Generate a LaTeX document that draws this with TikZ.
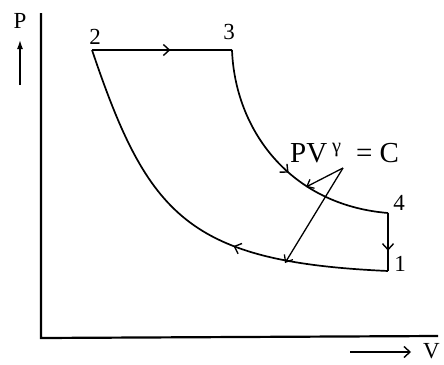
\documentclass[tikz,border=0pt]{standalone}
\usepackage{fontspec}
\setmainfont{Liberation Serif}
\usetikzlibrary{arrows.meta,decorations.markings}
\begin{document}
\begin{tikzpicture}[x=1pt,y=-1pt,
  curve/.style={line width=1.7pt},
  axis/.style={line width=2.2pt, line join=miter},
  pointer/.style={line width=1.3pt, -{Straight Barb[length=6pt,width=10pt,line width=1.3pt]}},
  midarrow/.style={postaction={decorate},decoration={markings,mark=at position #1 with {\arrow{Straight Barb[length=6pt,width=11pt,line width=1.4pt]}}}},
  lbl/.style={font=\fontsize{23}{23}\selectfont, inner sep=0pt}
]
\useasboundingbox (0,0) rectangle (444,364);
% axes
\coordinate (ytop) at (41,13);
\coordinate (o) at (41,338);
\coordinate (xend) at (438,336);
\draw[axis] (ytop) -- (o) -- (xend);
% cycle points
\coordinate (p2) at (92,50);
\coordinate (p3) at (232,50);
\coordinate (p4) at (388,213);
\coordinate (p1) at (388,271);
\draw[curve, midarrow=0.56] (p2) -- (p3);
\draw[curve, midarrow=0.56] (p3) .. controls (235,130) and (290,205) .. (p4);
\draw[curve, midarrow=0.65] (p4) -- (p1);
\draw[curve, midarrow=0.385] (p1) .. controls (188,262) and (148,216) .. (p2);
% labels
\node[lbl] (l2) at (95,37) {2};
\node[lbl] (l3) at (229,32) {3};
\node[lbl] (l4) at (399,203) {4};
\node[lbl] (l1) at (400,264) {1};
\node[lbl] (lP) at (20,21) {P};
\node[lbl, anchor=east] (lV) at (440,351) {V};
% axis arrows
\coordinate (pa1) at (20,85);
\coordinate (pa2) at (20,40);
\draw[line width=1.4pt, -{Latex[length=9pt,width=6pt]}] (pa1) -- (pa2);
\coordinate (va1) at (350,352);
\coordinate (va2) at (411,352);
\draw[line width=1.4pt, -{Straight Barb[length=6pt,width=11pt,line width=1.4pt]}] (va1) -- (va2);
% annotation
\node[anchor=base west, inner sep=0pt, font=\fontsize{29}{29}\selectfont] (eq) at (290,162) {PV\,\textsuperscript{γ}\ \ = C};
\coordinate (apex) at (343,168);
\coordinate (t1) at (306,187);
\coordinate (t2) at (285,263);
\draw[pointer] (apex) -- (t1);
\draw[pointer] (apex) -- (t2);
\end{tikzpicture}
\end{document}
